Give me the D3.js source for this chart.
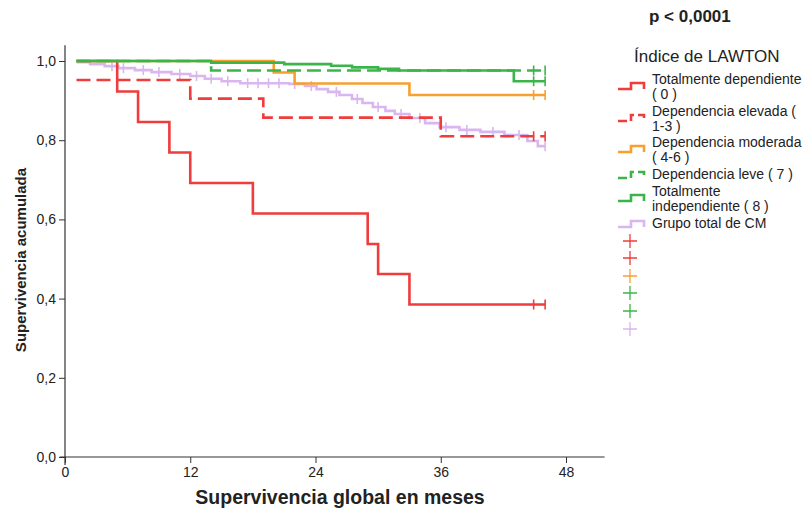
<!DOCTYPE html>
<html>
<head>
<meta charset="utf-8">
<script src="https://cdn.jsdelivr.net/npm/d3@7"></script>
<style>
  body { margin: 0; background: #fff; }
  svg text { font-family: "Liberation Sans", Arial, sans-serif; fill: #222; }
</style>
</head>
<body>
<div id="chart-container"></div>
<script>
// Kaplan-Meier curves per Lawton index group
const xTicks = [0, 12, 24, 36, 48];
const yTicks = [0, 0.2, 0.4, 0.6, 0.8, 1.0];

const redSolidTime = [1.1, 5, 7, 10, 12, 18, 29, 30, 33, 46];
const redSolidSurv = [1, 0.923, 0.846, 0.769, 0.692, 0.615, 0.538, 0.462, 0.385, 0.385];
const redSolidCens = [44.9, 46];

const redDashTime = [1.1, 12, 19, 36, 46];
const redDashSurv = [0.952, 0.905, 0.857, 0.810, 0.810];
const redDashCens = [44.9, 46];

const orangeTime = [1.1, 20, 22, 33, 46];
const orangeSurv = [1, 0.971, 0.943, 0.914, 0.914];
const orangeCens = [44.9, 46];

const greenDashTime = [1.1, 14, 46];
const greenDashSurv = [1, 0.976, 0.976];
const greenDashCens = [44.9, 46];

const greenSolidTime = [1.1, 14, 21, 25.5, 27.5, 30, 32, 43, 46];
const greenSolidSurv = [1, 0.996, 0.992, 0.988, 0.984, 0.980, 0.976, 0.949, 0.949];
const greenSolidCens = [44.9, 46];

const totalTime = [1.1, 2.4, 3.8, 5.1, 6.7, 8.3, 10.2, 12, 13.4, 15, 16.8, 21.5, 23, 24.1, 25.2, 26.3,
  27.5, 28.5, 29.5, 30.7, 31.6, 33, 34.5, 35.9, 37.8, 39.8, 42.1, 44.3, 45.3, 46];
const totalSurv = [0.997, 0.992, 0.987, 0.982, 0.977, 0.972, 0.967, 0.962, 0.955, 0.949, 0.944, 0.942,
  0.937, 0.929, 0.922, 0.914, 0.904, 0.894, 0.884, 0.874, 0.866, 0.856, 0.843, 0.833, 0.826, 0.821,
  0.813, 0.798, 0.785, 0.785];
const totalCens = [4.5, 5.6, 7.5, 9, 11, 12.6, 14, 15.6, 17.5, 18.5, 19.5, 20.5, 22, 23.6, 26,
  28, 30, 32.2, 34, 36.5, 38.5, 41, 43.5, 46];

const series = [
  { name: "Totalmente dependiente", sub: "( 0 )", color: "#f03c3c", dash: null, t: redSolidTime, s: redSolidSurv, c: redSolidCens },
  { name: "Dependencia elevada (", sub: "1-3 )", color: "#f03c3c", dash: "14,6", t: redDashTime, s: redDashSurv, c: redDashCens },
  { name: "Dependencia moderada", sub: "( 4-6 )", color: "#f7a030", dash: null, t: orangeTime, s: orangeSurv, c: orangeCens },
  { name: "Dependencia leve ( 7 )", sub: null, color: "#3bb54a", dash: "14,6", t: greenDashTime, s: greenDashSurv, c: greenDashCens },
  { name: "Totalmente", sub: "independiente ( 8 )", color: "#3bb54a", dash: null, t: greenSolidTime, s: greenSolidSurv, c: greenSolidCens },
  { name: "Grupo total de CM", sub: null, color: "#d9b6ef", dash: null, t: totalTime, s: totalSurv, c: totalCens }
];

const W = 807, H = 511;
const svg = d3.select("#chart-container").append("svg")
    .attr("width", W)
    .attr("height", H);

const x = d3.scaleLinear().domain([0, 48]).range([65, 566]);
const y = d3.scaleLinear().domain([0, 1]).range([457, 61]);

// axes
const axisColor = "#333";
svg.append("line")
    .attr("x1", x(-0.5)).attr("x2", x(51.7))
    .attr("y1", y(0)).attr("y2", y(0))
    .attr("stroke", axisColor).attr("stroke-width", 1.2);
svg.append("line")
    .attr("x1", x(0)).attr("x2", x(0))
    .attr("y1", y(1.04)).attr("y2", y(-0.02))
    .attr("stroke", axisColor).attr("stroke-width", 1.2);

const xAxis = svg.append("g")
    .attr("transform", `translate(0,${y(0)})`)
    .call(d3.axisBottom(x).tickValues(xTicks).tickSize(6).tickFormat(d3.format("d")));
xAxis.select(".domain").remove();
xAxis.selectAll("line").attr("stroke", axisColor);
xAxis.selectAll("text").style("font-size", "14px").attr("fill", "#333")
    .style("font-family", "'Liberation Sans', Arial, sans-serif").attr("dy", "0.8em");

const yAxis = svg.append("g")
    .attr("transform", `translate(${x(0)},0)`)
    .call(d3.axisLeft(y).tickValues(yTicks).tickSize(6).tickFormat(d => d3.format(".1f")(d).replace(".", ",")));
yAxis.select(".domain").remove();
yAxis.selectAll("line").attr("stroke", axisColor);
yAxis.selectAll("text").style("font-size", "14px").attr("fill", "#333")
    .style("font-family", "'Liberation Sans', Arial, sans-serif");

svg.append("text")
    .attr("text-anchor", "middle")
    .attr("x", 340).attr("y", 504)
    .style("font-size", "19.5px").style("font-weight", "bold")
    .text("Supervivencia global en meses");

svg.append("text")
    .attr("text-anchor", "middle")
    .attr("transform", "rotate(-90)")
    .attr("x", -260).attr("y", 26)
    .style("font-size", "15px").style("font-weight", "bold")
    .text("Supervivencia acumulada");

svg.append("text")
    .attr("x", 649).attr("y", 22)
    .style("font-size", "17px").style("font-weight", "bold")
    .text("p < 0,0001");

// curves (drawn so the total group sits under the others)
const line = d3.line()
    .x(d => x(d[0]))
    .y(d => y(d[1]))
    .curve(d3.curveStepAfter);

const order = [5, 0, 1, 2, 3, 4];
order.forEach(i => {
    const sr = series[i];
    const pts = sr.t.map((t, k) => [t, sr.s[k]]);
    svg.append("path")
        .datum(pts)
        .attr("fill", "none")
        .attr("stroke", sr.color)
        .attr("stroke-width", 2.6)
        .attr("stroke-dasharray", sr.dash)
        .attr("d", line);

    // censor marks
    const stepVal = t => {
        let v = sr.s[0];
        sr.t.forEach((tt, k) => { if (tt <= t) v = sr.s[k]; });
        return v;
    };
    svg.selectAll(null)
        .data(sr.c)
        .enter().append("line")
        .attr("x1", d => x(d)).attr("x2", d => x(d))
        .attr("y1", d => y(stepVal(d)) - 5)
        .attr("y2", d => y(stepVal(d)) + 5)
        .attr("stroke", sr.color)
        .attr("stroke-width", 1.6);
});

// legend
svg.append("text")
    .attr("x", 634).attr("y", 62)
    .style("font-size", "17px").attr("fill", "#333")
    .text("Índice de LAWTON");

const legBase = [84, 116, 147, 179, 196, 228];
series.forEach((sr, i) => {
    const b = legBase[i];
    const low = sr.sub ? b + 5 : b - 1;
    const g = svg.append("g");
    g.append("path")
        .attr("d", `M618,${low} H631 V${low - 6} H644 V${low}`)
        .attr("fill", "none")
        .attr("stroke", sr.color)
        .attr("stroke-width", 2.6)
        .attr("stroke-dasharray", sr.dash ? "9,4" : null);
    g.append("text")
        .attr("x", 652).attr("y", b)
        .style("font-size", "14px")
        .text(sr.name);
    if (sr.sub) {
        g.append("text")
            .attr("x", 652).attr("y", b + 15)
            .style("font-size", "14px")
            .text(sr.sub);
    }
});

const crossY = [241, 258, 276, 293, 311, 329];
series.forEach((sr, i) => {
    const cy = crossY[i];
    svg.append("path")
        .attr("d", `M623,${cy} H637 M630,${cy - 7} V${cy + 7}`)
        .attr("stroke", sr.color)
        .attr("stroke-width", 1.3)
        .attr("fill", "none");
});
</script>
</body>
</html>
